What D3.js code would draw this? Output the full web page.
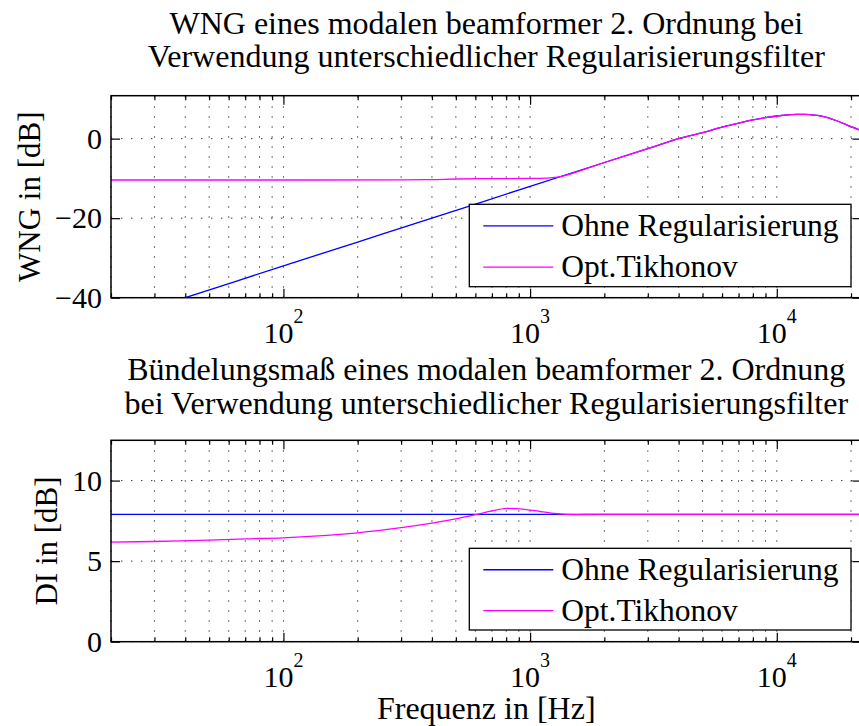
<!DOCTYPE html>
<html>
<head>
<meta charset="utf-8">
<script src="https://cdn.jsdelivr.net/npm/d3@7"></script>
<style>
  body { margin: 0; background: #fff; }
  svg text { font-family: "Liberation Serif", "Times New Roman", serif; fill: #000; }
</style>
</head>
<body>
<div id="chart"></div>
<script>
// ---- data ----
const wngFreq = [20, 40, 100, 200, 400, 1000, 2000, 3000, 4000, 5000, 6000, 7000, 8000, 9000, 10000, 12000, 13000, 15000, 17500, 20000, 22050];
const wngOhne = [-46, -40, -32, -26, -20, -12, -6, -2.5, 0, 1.5, 2.9, 3.9, 4.7, 5.3, 5.7, 6.1, 6.1, 5.7, 4.5, 3.0, 2.0];
const wngTikhFreq = [20, 100, 300, 400, 500, 700, 1000, 1200, 1344, 2000, 3000, 4000, 5000, 6000, 7000, 8000, 9000, 10000, 12000, 13000, 15000, 17500, 20000, 22050];
const wngTikh = [-10.4, -10.4, -10.35, -10.3, -10.15, -10.05, -10.0, -9.85, -9.5, -6, -2.5, 0, 1.5, 2.9, 3.9, 4.7, 5.3, 5.7, 6.1, 6.1, 5.7, 4.5, 3.0, 2.0];

const diFreq = [20, 22050];
const diOhne = [7.9, 7.9];
const diTikhFreq = [20, 30, 50, 70, 100, 150, 200, 300, 400, 500, 600, 700, 800, 900, 1000, 1100, 1200, 1300, 1400, 2000, 22050];
const diTikh = [6.18, 6.22, 6.3, 6.38, 6.45, 6.6, 6.76, 7.08, 7.36, 7.62, 7.88, 8.12, 8.27, 8.25, 8.17, 8.08, 8.0, 7.94, 7.9, 7.9, 7.9];

const seriesNames = ["Ohne Regularisierung", "Opt.Tikhonov"];
const seriesColors = ["#0000ff", "#ff00ff"];
const wngTicks = [-40, -20, 0];
const diTicks = [0, 5, 10];
const xMajor = [100, 1000, 10000];

const width = 859, height = 726;
const serif = "'Liberation Serif', 'Times New Roman', serif";
const svg = d3.select("#chart").append("svg")
  .attr("width", width).attr("height", height)
  .attr("viewBox", [0, 0, width, height])
  .attr("font-family", serif);

const x = d3.scaleLog().domain([20, 22050]).range([111, 861.5]);
const xTicksAll = x.ticks();
const xMinor = xTicksAll.filter(d => !xMajor.includes(d));

const panels = [
  {
    id: "wng", top: 95.7, bottom: 297.7, yDomain: [-40, 10.8], yTicks: wngTicks,
    title: ["WNG eines modalen beamformer 2. Ordnung bei", "Verwendung unterschiedlicher Regularisierungsfilter"],
    titleY: [34, 67], ylabel: "WNG in [dB]", ylabelX: 40,
    series: [[wngFreq, wngOhne], [wngTikhFreq, wngTikh]],
    legend: { x0: 469.3, y0: 204.3, x1: 851, y1: 286.7 }
  },
  {
    id: "di", top: 440.3, bottom: 641.7, yDomain: [0, 12.5], yTicks: diTicks,
    title: ["Bündelungsmaß eines modalen beamformer 2. Ordnung", "bei Verwendung unterschiedlicher Regularisierungsfilter"],
    titleY: [380, 414], ylabel: "DI in [dB]", ylabelX: 57,
    series: [[diFreq, diOhne], [diTikhFreq, diTikh]],
    legend: { x0: 469.3, y0: 548.3, x1: 851, y1: 630 }
  }
];

const [xl, xr] = x.range();

panels.forEach(p => {
  const y = d3.scaleLinear().domain(p.yDomain).range([p.bottom, p.top]);
  const g = svg.append("g").attr("id", p.id);

  // clip for the curves
  g.append("clipPath").attr("id", "clip-" + p.id)
    .append("rect").attr("x", xl).attr("y", p.top).attr("width", xr - xl).attr("height", p.bottom - p.top);

  // dotted grid
  const grid = g.append("g").attr("stroke", "#333").attr("stroke-width", 1).attr("stroke-dasharray", "1.4,8.6");
  grid.selectAll(".vg").data(xTicksAll).enter().append("line")
    .attr("x1", d => x(d)).attr("x2", d => x(d)).attr("y1", p.bottom).attr("y2", p.top);
  grid.selectAll(".hg").data(p.yTicks).enter().append("line")
    .attr("x1", xl).attr("x2", xr).attr("y1", d => y(d)).attr("y2", d => y(d));

  // curves
  const line = d3.line().x(d => x(d[0])).y(d => y(d[1])).curve(d3.curveCatmullRom.alpha(0.5));
  p.series.forEach(([fs, vs], i) => {
    g.append("path")
      .attr("clip-path", `url(#clip-${p.id})`)
      .attr("d", line(fs.map((f, k) => [f, vs[k]])))
      .attr("fill", "none").attr("stroke", seriesColors[i]).attr("stroke-width", 1.3);
  });

  // inward ticks on all four sides
  const tickStyle = sel => {
    sel.attr("font-family", null).attr("font-size", null);
    sel.select(".domain").remove();
    sel.selectAll("line").attr("stroke", "#000").attr("stroke-width", 1.2);
  };
  g.append("g").attr("transform", `translate(0,${p.bottom})`)
    .call(d3.axisBottom(x).tickValues(xMinor).tickSize(-4.5).tickFormat("")).call(tickStyle);
  g.append("g").attr("transform", `translate(0,${p.bottom})`)
    .call(d3.axisBottom(x).tickValues(xMajor).tickSize(-9).tickFormat("")).call(tickStyle);
  g.append("g").attr("transform", `translate(0,${p.top})`)
    .call(d3.axisTop(x).tickValues(xMinor).tickSize(-4.5).tickFormat("")).call(tickStyle);
  g.append("g").attr("transform", `translate(0,${p.top})`)
    .call(d3.axisTop(x).tickValues(xMajor).tickSize(-9).tickFormat("")).call(tickStyle);
  g.append("g").attr("transform", `translate(${xr},0)`)
    .call(d3.axisRight(y).tickValues(p.yTicks).tickSize(-9).tickFormat("")).call(tickStyle);

  const yAxis = g.append("g").attr("transform", `translate(${xl},0)`)
    .call(d3.axisLeft(y).tickValues(p.yTicks).tickSize(-9).tickPadding(9));
  yAxis.call(tickStyle);
  yAxis.selectAll("text").attr("font-size", 30).attr("fill", "#000");

  // x tick labels 10^n
  const xl10 = g.append("g");
  xMajor.forEach(v => {
    const t = xl10.append("text").attr("x", x(v)).attr("y", p.bottom + 45.5)
      .attr("text-anchor", "middle").attr("font-size", 30);
    t.append("tspan").text("10");
    t.append("tspan").attr("font-size", 20).attr("dy", -20).text(Math.round(Math.log10(v)));
  });

  // box
  g.append("rect").attr("x", xl).attr("y", p.top).attr("width", xr - xl).attr("height", p.bottom - p.top)
    .attr("fill", "none").attr("stroke", "#000").attr("stroke-width", 1.5);

  // title
  p.title.forEach((s, i) => {
    g.append("text").attr("x", (xl + xr) / 2).attr("y", p.titleY[i])
      .attr("text-anchor", "middle").attr("font-size", 32).text(s);
  });

  // y label
  g.append("text")
    .attr("transform", `translate(${p.ylabelX},${(p.top + p.bottom) / 2}) rotate(-90)`)
    .attr("text-anchor", "middle").attr("font-size", 31).text(p.ylabel);

  // legend
  const L = p.legend;
  const lg = g.append("g");
  lg.append("rect").attr("x", L.x0).attr("y", L.y0).attr("width", L.x1 - L.x0).attr("height", L.y1 - L.y0)
    .attr("fill", "#fff").attr("stroke", "#000").attr("stroke-width", 1.3);
  const rowH = (L.y1 - L.y0) / 2;
  seriesNames.forEach((name, i) => {
    const cy = L.y0 + rowH * (i + 0.5) + 1;
    lg.append("line").attr("x1", L.x0 + 14).attr("x2", L.x0 + 84).attr("y1", cy).attr("y2", cy)
      .attr("stroke", seriesColors[i]).attr("stroke-width", 1.3);
    lg.append("text").attr("x", L.x0 + 92).attr("y", cy + 10).attr("font-size", 31.5).text(name);
  });
});

// x axis label
svg.append("text").attr("x", (xl + xr) / 2).attr("y", 719)
  .attr("text-anchor", "middle").attr("font-size", 32).text("Frequenz in [Hz]");
</script>
</body>
</html>
